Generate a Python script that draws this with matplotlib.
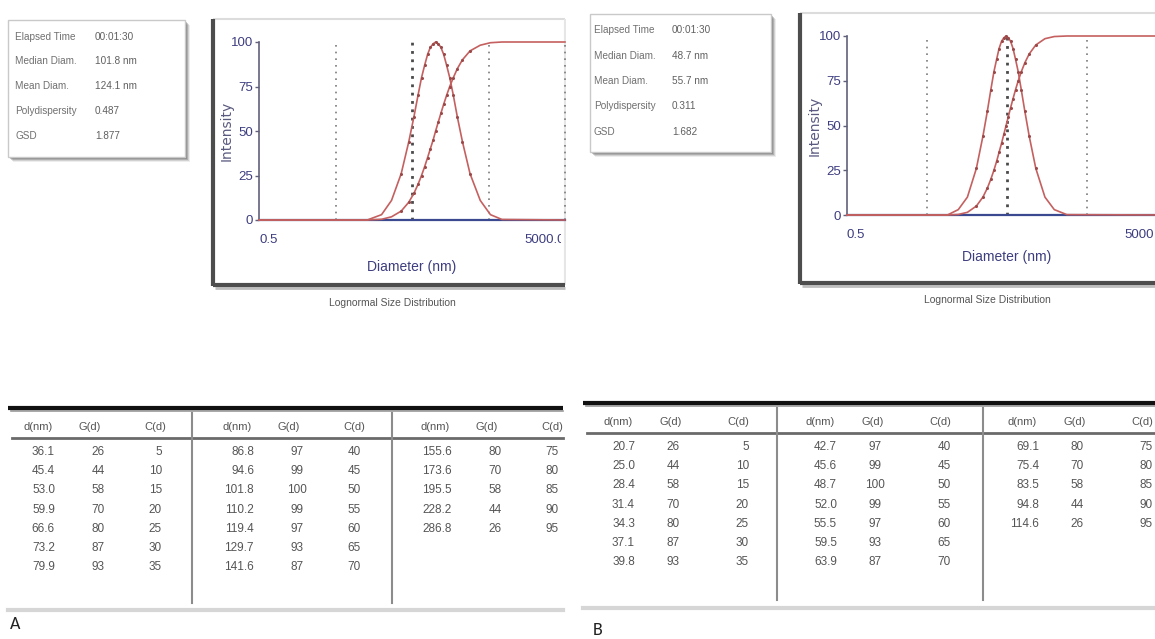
import matplotlib
matplotlib.use('Agg')
import matplotlib.pyplot as plt
from matplotlib.patches import Rectangle
import matplotlib.transforms as mtransforms
import warnings
warnings.filterwarnings('ignore')

W, H = 1155, 639
NARROW = ['Liberation Sans Narrow', 'Liberation Sans', 'DejaVu Sans']

# ---------------- data ----------------
info_labels = ["Elapsed Time", "Median Diam.", "Mean Diam.", "Polydispersity", "GSD"]
info_values_A = ["00:01:30", "101.8 nm", "124.1 nm", "0.487", "1.877"]
info_values_B = ["00:01:30", "48.7 nm", "55.7 nm", "0.311", "1.682"]

table_headers = ["d(nm)", "G(d)", "C(d)"]
d_A = [36.1, 45.4, 53.0, 59.9, 66.6, 73.2, 79.9, 86.8, 94.6, 101.8,
       110.2, 119.4, 129.7, 141.6, 155.6, 173.6, 195.5, 228.2, 286.8]
G_A = [26, 44, 58, 70, 80, 87, 93, 97, 99, 100, 99, 97, 93, 87, 80, 70, 58, 44, 26]
C_A = [5, 10, 15, 20, 25, 30, 35, 40, 45, 50, 55, 60, 65, 70, 75, 80, 85, 90, 95]

d_B = [20.7, 25.0, 28.4, 31.4, 34.3, 37.1, 39.8, 42.7, 45.6, 48.7,
       52.0, 55.5, 59.5, 63.9, 69.1, 75.4, 83.5, 94.8, 114.6]
G_B = [26, 44, 58, 70, 80, 87, 93, 97, 99, 100, 99, 97, 93, 87, 80, 70, 58, 44, 26]
C_B = [5, 10, 15, 20, 25, 30, 35, 40, 45, 50, 55, 60, 65, 70, 75, 80, 85, 90, 95]

# curve tails (outside the table range)
lo_d_A = [0.5, 13, 20, 27]
lo_G_A = [0, 0, 3, 11]
lo_C_A = [0, 0, 0.4, 1.8]
hi_d_A = [390, 530, 750, 5000]
hi_G_A = [11, 3, 0.3, 0]
hi_C_A = [98.2, 99.6, 100, 100]

lo_d_B = [0.5, 9, 12.3, 16]
lo_G_B = [0, 0, 3, 10]
lo_C_B = [0, 0, 0.3, 1.5]
hi_d_B = [149, 195, 280, 5000]
hi_G_B = [10, 3, 0.2, 0]
hi_C_B = [98.5, 99.7, 100, 100]

y_ticks = [0, 25, 50, 75, 100]
x_range = [0.5, 5000]
x_tick_labels = ["0.5", "5000.0"]
grid_d = [5, 50, 500, 5000]

# ---------------- figure ----------------
fig = plt.figure(figsize=(W / 100, H / 100), dpi=100)
fig.patch.set_facecolor('white')


def overlay(x0, x1):
    ax = fig.add_axes([x0 / W, 0, (x1 - x0) / W, 1])
    ax.set_xlim(x0, x1)
    ax.set_ylim(H, 0)
    ax.axis('off')
    ax.set_zorder(0)
    return ax


axA = overlay(0, 566)
axB = overlay(575, 1155)

TXT = '#555555'


def info_box(ax, x, y, w, h, rows_y, lab_x, val_x, values):
    for dx, a in [(5, 0.10), (4, 0.18), (3, 0.28), (2, 0.35)]:
        ax.add_patch(Rectangle((x + dx, y + dx), w, h, fc='#555555', ec='none', alpha=a, zorder=1))
    ax.add_patch(Rectangle((x, y), w, h, fc='white', ec='#c9c9c9', lw=1, zorder=2))
    for ry, lab, val in zip(rows_y, info_labels, values):
        ax.text(lab_x, ry, lab, family=NARROW, fontsize=7.2, color='#707070', va='center', ha='left', zorder=3)
        ax.text(val_x, ry, val, family=NARROW, fontsize=7.2, color='#606060', va='center', ha='left', zorder=3)


info_box(axA, 8, 20, 177, 137, [37, 61, 86, 111, 136], 15, 95, info_values_A)
info_box(axB, 590, 14, 181, 138, [30, 56, 81, 106, 132], 594, 672, info_values_B)


def plot_frame(ax, x0, y0, x1, y1):
    ax.add_patch(Rectangle((x0, y0), x1 - x0, y1 - y0, fc='white', ec='none', zorder=1))
    ax.plot([x0, x1], [y0, y0], color='#dcdcdc', lw=1.5, zorder=2, solid_capstyle='butt')
    ax.plot([x1, x1], [y0, y1], color='#e6e6e6', lw=1.5, zorder=2, solid_capstyle='butt')
    ax.plot([x0, x0], [y0, y1 + 1], color='#4d4d4d', lw=3, zorder=3, solid_capstyle='butt')
    ax.plot([x0, x1], [y1, y1], color='#4d4d4d', lw=3, zorder=3, solid_capstyle='butt')
    ax.plot([x0 + 2, x1], [y1 + 3, y1 + 3], color='#bdbdbd', lw=2, zorder=2, solid_capstyle='butt')


plot_frame(axA, 213, 19, 565, 285)
plot_frame(axB, 800, 13, 1158, 283)

NAVY = '#3d3d80'
SPINE = '#60607a'
RED = '#c4605f'
DOT = '#9a4848'


def make_plot(ovl, left, right, y0, y100, d, G, C, lo_d, lo_G, lo_C, hi_d, hi_G, hi_C,
              xlab_y, ylab_x, title_x, title_y):
    ax = fig.add_axes([left / W, 1 - y0 / H, (right - left) / W, (y0 - y100) / H])
    ax.set_zorder(2)
    ax.patch.set_alpha(0)
    ax.set_xscale('log')
    ax.set_xlim(*x_range)
    ax.set_ylim(0, 100)
    for s in ['top', 'right', 'bottom']:
        ax.spines[s].set_visible(False)
    ax.spines['left'].set_color(SPINE)
    ax.spines['left'].set_linewidth(1.2)
    ax.set_xticks([])
    ax.xaxis.set_minor_locator(matplotlib.ticker.NullLocator())
    ax.set_yticks(y_ticks)
    ax.set_yticklabels([str(t) for t in y_ticks], family=NARROW, fontsize=9.5, color=NAVY)
    ax.tick_params(axis='y', direction='out', length=3, width=1, colors=SPINE, labelcolor=NAVY, pad=1.5)
    for g in grid_d:
        bold = (g == 50)
        ax.axvline(g, 0, 1, color='#4a4a4a' if bold else '#7a7a7a', ls=(0, (1, 2)) if bold else (0, (1, 3)),
                   lw=2.0 if bold else 1.2, zorder=1, clip_on=False)
    ax.axhline(0, color='#3b4a90', lw=1.6, zorder=2, clip_on=False)
    xs = lo_d + d + hi_d
    ax.plot(xs, lo_G + G + hi_G, color=RED, lw=1.2, zorder=3, clip_on=False)
    ax.plot(xs, lo_C + C + hi_C, color=RED, lw=1.2, zorder=3, clip_on=False)
    ax.plot(d, G, ls='none', marker='o', ms=1.2, color=DOT, zorder=4, clip_on=False)
    ax.plot(d, C, ls='none', marker='o', ms=1.2, color=DOT, zorder=4, clip_on=False)
    blend = mtransforms.blended_transform_factory(ax.transData, ax.transAxes)
    lab_off = -20 / (y0 - y100)
    ax.text(x_range[0], lab_off, x_tick_labels[0], transform=blend, ha='left', va='center',
            family=NARROW, fontsize=9.5, color=NAVY)
    t = ax.text(x_range[1], lab_off, x_tick_labels[1], transform=blend, ha='right', va='center',
                family=NARROW, fontsize=9.5, color=NAVY, clip_on=True)
    ax.text(0.5, -(xlab_y - y0) / (y0 - y100), "Diameter (nm)", transform=ax.transAxes, ha='center',
            va='center', family=NARROW, fontsize=10, color=NAVY)
    ovl.text(ylab_x, (y0 + y100) / 2, "Intensity", rotation=90, ha='center', va='center',
             fontsize=10, color='#5a5a80', zorder=5)
    ovl.text(title_x, title_y, "Lognormal Size Distribution", ha='center', va='center',
             family=NARROW, fontsize=7.5, color='#555555', zorder=5)
    return ax, t


axpA, tA = make_plot(axA, 259, 565, 220, 42, d_A, G_A, C_A, lo_d_A, lo_G_A, lo_C_A, hi_d_A, hi_G_A, hi_C_A,
                     267, 227, 392, 303)
axpB, tB = make_plot(axB, 847, 1167, 215, 36, d_B, G_B, C_B, lo_d_B, lo_G_B, lo_C_B, hi_d_B, hi_G_B, hi_C_B,
                     257, 815, 987, 300)
# panel A's picture is cropped at its right edge
clipA = Rectangle((0, 0), 561, H, transform=axA.transData)
tA.set_clip_path(clipA)
# panel B's axis end lies past the picture edge: keep the label inside the picture
tB.remove()
axB.text(1154, 235, x_tick_labels[1].split('.')[0], ha='right', va='center',
         family=NARROW, fontsize=9.5, color=NAVY, zorder=5)


def fmt_num(v):
    return f"{v:.1f}" if isinstance(v, float) else str(v)


def draw_table(ax, left, right, top, head_y, uline_y, row0, dy, bottom, seps, sep_top, sep_bot,
               offsets, hdr_x, d_right, g_center, c_right, d, G, C):
    ax.plot([left, right], [top, top], color='#111111', lw=3, zorder=2, solid_capstyle='butt')
    ax.plot([left + 3, right], [top + 2.5, top + 2.5], color='#9a9a9a', lw=1.2, zorder=1)
    ax.plot([left + 4, right], [uline_y, uline_y], color='#6a6a6a', lw=2, zorder=2)
    ax.plot([left, right], [bottom, bottom], color='#d6d6d6', lw=3, zorder=2)
    for sx in seps:
        ax.plot([sx, sx], [sep_top, sep_bot], color='#8c8c8c', lw=1.5, zorder=2)
    for gi, off in enumerate(offsets):
        for hx, h in zip(hdr_x, table_headers):
            ax.text(hx + off, head_y, h, ha='center', va='center', family=NARROW, fontsize=8,
                    color=TXT, zorder=3, clip_on=True)
        idx = range(7 * gi, min(7 * gi + 7, len(d)))
        for r, i in enumerate(idx):
            y = row0 + r * dy
            ax.text(d_right + off, y, fmt_num(d[i]), ha='right', va='center', family=NARROW,
                    fontsize=8.5, color=TXT, zorder=3, clip_on=True)
            ax.text(g_center + off, y, fmt_num(G[i]), ha='center', va='center', family=NARROW,
                    fontsize=8.5, color=TXT, zorder=3, clip_on=True)
            ax.text(c_right + off, y, fmt_num(C[i]), ha='right', va='center', family=NARROW,
                    fontsize=8.5, color=TXT, zorder=3, clip_on=True)


draw_table(axA, 8, 563, 408, 427, 438, 452, 19.2, 610, [192, 392], 413, 603,
           [0, 199, 397], [38, 90, 155], 55, 98, 162, d_A, G_A, C_A)
draw_table(axB, 583, 1155, 403, 422, 433, 447, 19.2, 608, [777, 983], 408, 600,
           [0, 202, 404], [618, 671, 738], 635, 673, 749, d_B, G_B, C_B)

axA.text(10, 624, "A", fontsize=13, color='#222222', ha='left', va='center',
         family=['Carlito', 'Liberation Sans', 'DejaVu Sans'])
axB.text(593, 630, "B", fontsize=13, color='#222222', ha='left', va='center',
         family=['Carlito', 'Liberation Sans', 'DejaVu Sans'])

fig.savefig('out.png', dpi=100, facecolor='white')
